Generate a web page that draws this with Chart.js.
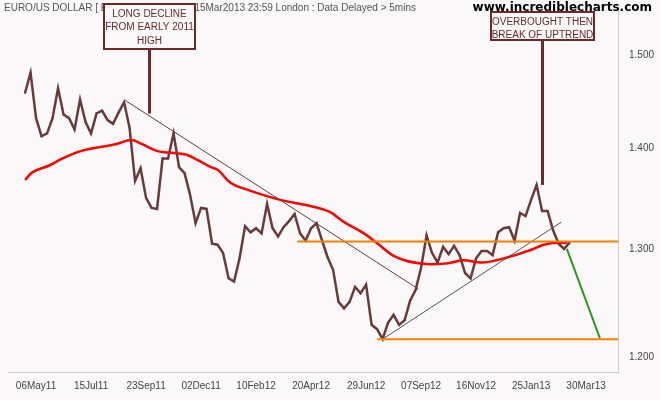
<!DOCTYPE html>
<html>
<head>
<meta charset="utf-8">
<script src="https://cdn.jsdelivr.net/npm/chart.js@4"></script>
<style>
  body { margin: 0; background: #faf8f9; }
</style>
</head>
<body>
<canvas id="chart" width="660" height="400"></canvas>
<script>
// weekly closes, EUR/USD, week index 0 = 22Apr11
const closes = [1.459, 1.481, 1.432, 1.413, 1.416, 1.432, 1.464, 1.436, 1.432, 1.420,
  1.452, 1.428, 1.416, 1.437, 1.440, 1.430, 1.426, 1.438, 1.449, 1.422,
  1.367, 1.380, 1.350, 1.340, 1.339, 1.390, 1.390, 1.416, 1.381, 1.375,
  1.353, 1.325, 1.340, 1.339, 1.305, 1.304, 1.296, 1.272, 1.269, 1.291,
  1.322, 1.316, 1.320, 1.315, 1.344, 1.320, 1.312, 1.321, 1.327, 1.334,
  1.315, 1.308, 1.320, 1.325, 1.308, 1.292, 1.280, 1.250, 1.244, 1.250,
  1.264, 1.258, 1.266, 1.229, 1.225, 1.216, 1.231, 1.238, 1.229, 1.233,
  1.251, 1.261, 1.282, 1.313, 1.296, 1.287, 1.302, 1.295, 1.303, 1.294,
  1.277, 1.272, 1.291, 1.298, 1.298, 1.294, 1.316, 1.320, 1.321, 1.308,
  1.335, 1.332, 1.348, 1.363, 1.337, 1.337, 1.318, 1.305, 1.300, 1.306];

// moving average (week index, value)
const maWeeks = [0, 1.4, 4.5, 6.8, 10.4, 14, 16.6, 19.3, 21.2, 23.8, 26.1, 29.2, 31.5, 33.8, 35.1,
  37.4, 40.5, 46.4, 52.6, 55.4, 58, 61.6, 63.9, 67.5, 72, 76.5, 79.6, 83.2, 87.8, 91.4, 95, 98.6];
const maValues = [1.368, 1.376, 1.383, 1.390, 1.398, 1.402, 1.405, 1.409, 1.405, 1.398, 1.396, 1.394, 1.388, 1.381, 1.378,
  1.365, 1.358, 1.348, 1.341, 1.336, 1.326, 1.315, 1.306, 1.292, 1.286, 1.286, 1.289, 1.287, 1.292, 1.298, 1.305, 1.306];

const tickWeeks = [2, 12, 22, 32, 42, 52, 62, 72, 82, 92, 102];
const tickLabels = ['06May11', '15Jul11', '23Sep11', '02Dec11', '10Feb12', '20Apr12',
  '29Jun12', '07Sep12', '16Nov12', '25Jan13', '30Mar13'];
const priceTicks = [1.2, 1.3, 1.4, 1.5];

// drawn trend lines: [week, value] pairs
const downTrend = [[18.2, 1.451], [71.5, 1.262]];
const upTrend = [[65, 1.216], [97.5, 1.326]];
const resistance = [[49.5, 1.307], [108, 1.307]];
const support = [[64, 1.216], [108, 1.216]];
const target = [[98.5, 1.300], [104.5, 1.217]];

const maroon = '#6b2a2a';
const toXY = arr => arr.map(p => ({ x: p[0], y: p[1] }));
const seg = (arr, color, w) => ({
  data: toXY(arr), borderColor: color, borderWidth: w, pointRadius: 0, tension: 0
});

// callout boxes and header text
const callouts = {
  id: 'callouts',
  afterDraw(chart) {
    const c = chart.ctx, ys = chart.scales.y;
    c.save();
    c.font = '10px "Liberation Sans"';
    c.fillStyle = '#555';
    c.textBaseline = 'middle';
    c.fillText('EURO/US DOLLAR [ EURUSD ]:WEEKLY:15Mar2013 23:59 London : Data Delayed > 5mins', 4, 8);
    c.font = 'bold 12px "DejaVu Sans"';
    c.fillStyle = '#000';
    c.textAlign = 'right';
    c.fillText('www.incrediblecharts.com', 652, 8);

    const box = (x, y, w, h, lines, py) => {
      c.strokeStyle = maroon;
      c.lineWidth = 3;
      c.beginPath();
      c.moveTo(x + w / 2, y + h);
      c.lineTo(x + w / 2, py);
      c.stroke();
      c.fillStyle = '#faf8f9';
      c.fillRect(x, y, w, h);
      c.lineWidth = 2;
      c.strokeRect(x, y, w, h);
      c.fillStyle = maroon;
      c.font = '10px "Liberation Sans"';
      c.textAlign = 'center';
      lines.forEach((t, i) => c.fillText(t, x + w / 2, y + 10 + i * 13.5));
    };
    box(104, 4, 91, 45, ['LONG DECLINE', 'FROM EARLY 2011', 'HIGH'], ys.getPixelForValue(1.437));
    box(491, 12, 103, 28, ['OVERBOUGHT THEN', 'BREAK OF UPTREND'], ys.getPixelForValue(1.363));
    c.restore();
  }
};

new Chart(document.getElementById('chart'), {
  type: 'line',
  data: {
    datasets: [
      seg(resistance, '#ff8000', 2),
      seg(support, '#ff8000', 2),
      seg(target, '#2a9a1a', 2),
      seg(downTrend, '#6b3a3a', 1),
      seg(upTrend, '#555555', 1),
      {
        data: maWeeks.map((w, i) => ({ x: w, y: maValues[i] })),
        borderColor: '#ff0000', borderWidth: 2.5, pointRadius: 0, tension: 0.4
      },
      {
        data: closes.map((v, i) => ({ x: i, y: v })),
        borderColor: '#6b3a3a', borderWidth: 2.5, pointRadius: 1, pointBackgroundColor: '#6b3a3a',
        pointBorderWidth: 0, tension: 0
      }
    ]
  },
  options: {
    responsive: false,
    animation: false,
    layout: { padding: { left: 8 } },
    plugins: { legend: { display: false }, tooltip: { enabled: false } },
    scales: {
      x: {
        type: 'linear', min: -3.1, max: 107.8,
        afterBuildTicks: s => { s.ticks = tickWeeks.map(v => ({ value: v })); },
        afterFit: s => { s.height = 28; },
        grid: { display: false },
        border: { color: '#cccccc' },
        ticks: {
          color: '#444', font: { size: 10, family: 'Liberation Sans' }, maxRotation: 0, autoSkip: false,
          padding: 0,
          callback: v => tickLabels[tickWeeks.indexOf(v)]
        }
      },
      y: {
        type: 'logarithmic', position: 'right', min: 1.1868, max: 1.5525,
        afterBuildTicks: s => { s.ticks = priceTicks.map(v => ({ value: v })); },
        afterFit: s => { s.width = 42; },
        grid: { display: false },
        border: { color: '#cccccc' },
        ticks: {
          color: '#444', font: { size: 10, family: 'Liberation Sans' },
          callback: v => v.toFixed(3)
        }
      }
    }
  },
  plugins: [callouts]
});
</script>
</body>
</html>
